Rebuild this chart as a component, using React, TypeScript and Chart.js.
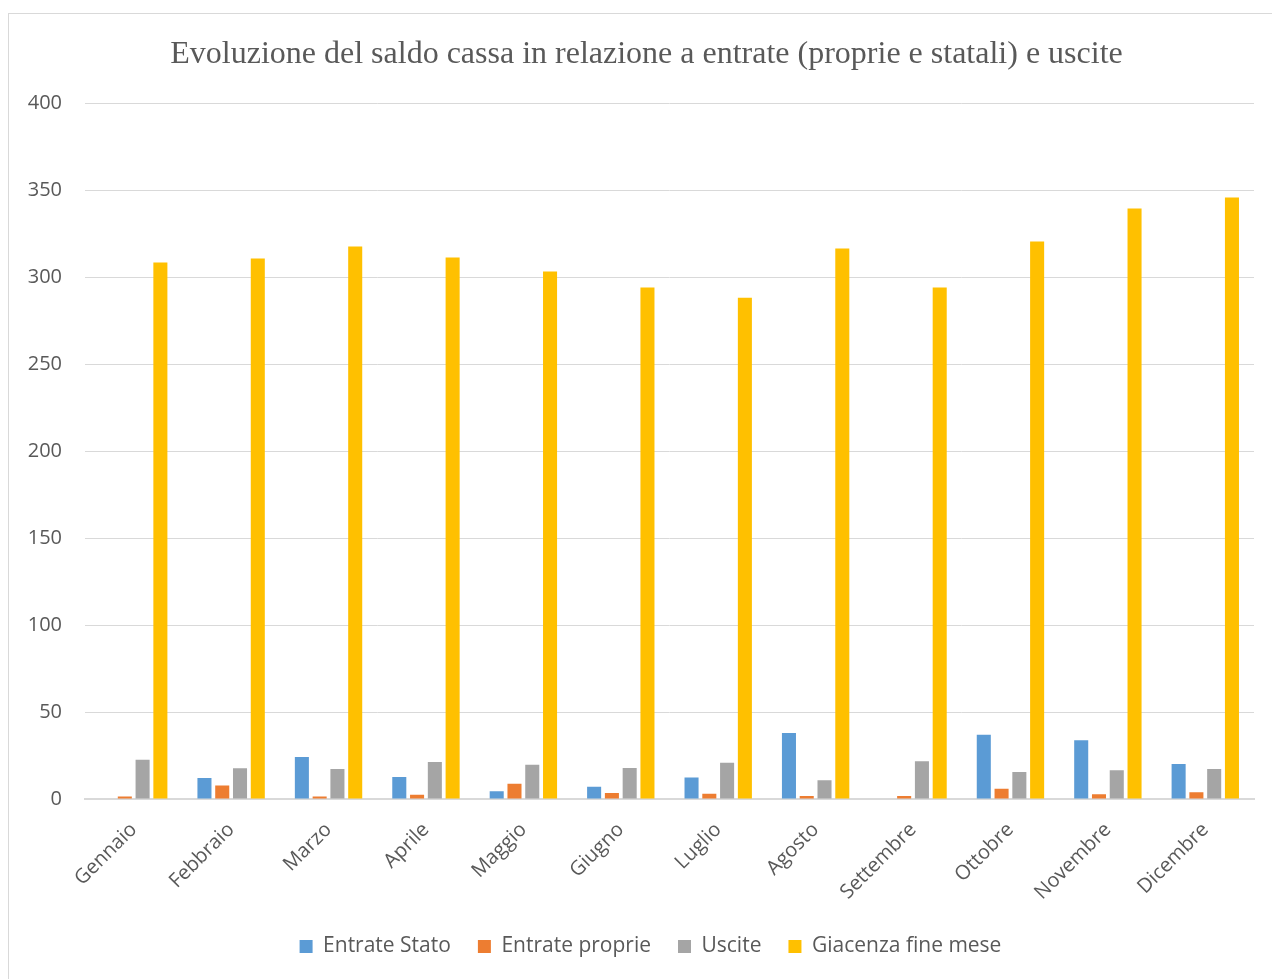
import React, { useEffect, useRef } from "react";
import { Chart, registerables } from "chart.js";

Chart.register(...registerables);

const titleText = "Evoluzione del saldo cassa in relazione a entrate (proprie e statali) e uscite";
const months = ["Gennaio", "Febbraio", "Marzo", "Aprile", "Maggio", "Giugno", "Luglio", "Agosto", "Settembre", "Ottobre", "Novembre", "Dicembre"];
const entrateStato = [0, 12.1, 24.2, 12.7, 4.4, 7.1, 12.3, 38, 0, 37, 33.8, 20.1];
const entrateProprie = [1.5, 7.7, 1.5, 2.5, 8.8, 3.5, 3.0, 1.7, 1.7, 5.9, 2.7, 3.9];
const uscite = [22.6, 17.7, 17.3, 21.3, 19.7, 17.8, 20.9, 10.8, 21.7, 15.5, 16.5, 17.3];
const giacenza = [308.5, 310.8, 317.7, 311.4, 303.3, 294.1, 288.3, 316.5, 294.1, 320.6, 339.6, 345.9];
const seriesNames = ["Entrate Stato", "Entrate proprie", "Uscite", "Giacenza fine mese"];
const seriesColors = ["#5B9BD5", "#ED7D31", "#A5A5A5", "#FFC000"];
const yTicks = [0, 50, 100, 150, 200, 250, 300, 350, 400];

const CANVAS_W = 1263;
const CANVAS_H = 953;

const centerShift = {
  id: "centerShift",
  afterLayout(chart: any) {
    if (chart.titleBlock) chart.titleBlock.left += 30;
    if (chart.legend) chart.legend.left += 38;
  },
};

export default function App() {
  const ref = useRef<HTMLCanvasElement | null>(null);

  useEffect(() => {
    if (!ref.current) return;
    const values = [entrateStato, entrateProprie, uscite, giacenza];
    const chart = new Chart(ref.current, {
      type: "bar",
      data: {
        labels: months,
        datasets: seriesNames.map((name, i) => ({
          label: name,
          data: values[i],
          backgroundColor: seriesColors[i],
          borderWidth: 0,
          categoryPercentage: 0.73,
          barPercentage: 0.79,
        })),
      },
      plugins: [centerShift],
      options: {
        responsive: false,
        animation: false,
        layout: { padding: { left: 0, right: 18, top: 0, bottom: 0 } },
        plugins: {
          title: {
            display: true,
            text: titleText,
            color: "#595959",
            font: { family: "'Liberation Serif', 'Times New Roman', serif", size: 32, weight: "normal" },
            padding: { top: 21, bottom: 30 },
          },
          legend: {
            position: "bottom",
            labels: {
              color: "#595959",
              font: { family: "'Open Sans', sans-serif", size: 21 },
              boxWidth: 13,
              boxHeight: 13,
              padding: 27,
            },
          },
          tooltip: { enabled: false },
        },
        scales: {
          x: {
            grid: { display: false, drawTicks: false },
            border: { display: true, color: "#D9D9D9", width: 2 },
            ticks: {
              color: "#595959",
              font: { family: "'Open Sans', sans-serif", size: 20 },
              minRotation: 45,
              maxRotation: 45,
              padding: 19,
            },
            afterFit: (scale: any) => {
              scale.height = 110;
            },
          },
          y: {
            min: 0,
            max: 400,
            afterBuildTicks: (scale: any) => {
              scale.ticks = yTicks.map((v) => ({ value: v }));
            },
            grid: { color: "#D9D9D9", lineWidth: 1, drawTicks: false },
            border: { display: false },
            ticks: {
              color: "#595959",
              font: { family: "'Open Sans', sans-serif", size: 20 },
              padding: 23,
            },
            afterFit: (scale: any) => {
              scale.width = 76;
            },
          },
        },
      },
    });
    return () => chart.destroy();
  }, []);

  return (
    <div
      style={{
        position: "absolute",
        left: 8,
        top: 13,
        width: 1264,
        height: 966,
        borderLeft: "1px solid #D9D9D9",
        borderTop: "1px solid #D9D9D9",
        boxSizing: "border-box",
        overflow: "hidden",
        background: "#fff",
      }}
    >
      <canvas ref={ref} width={CANVAS_W} height={CANVAS_H} style={{ display: "block" }} />
    </div>
  );
}
